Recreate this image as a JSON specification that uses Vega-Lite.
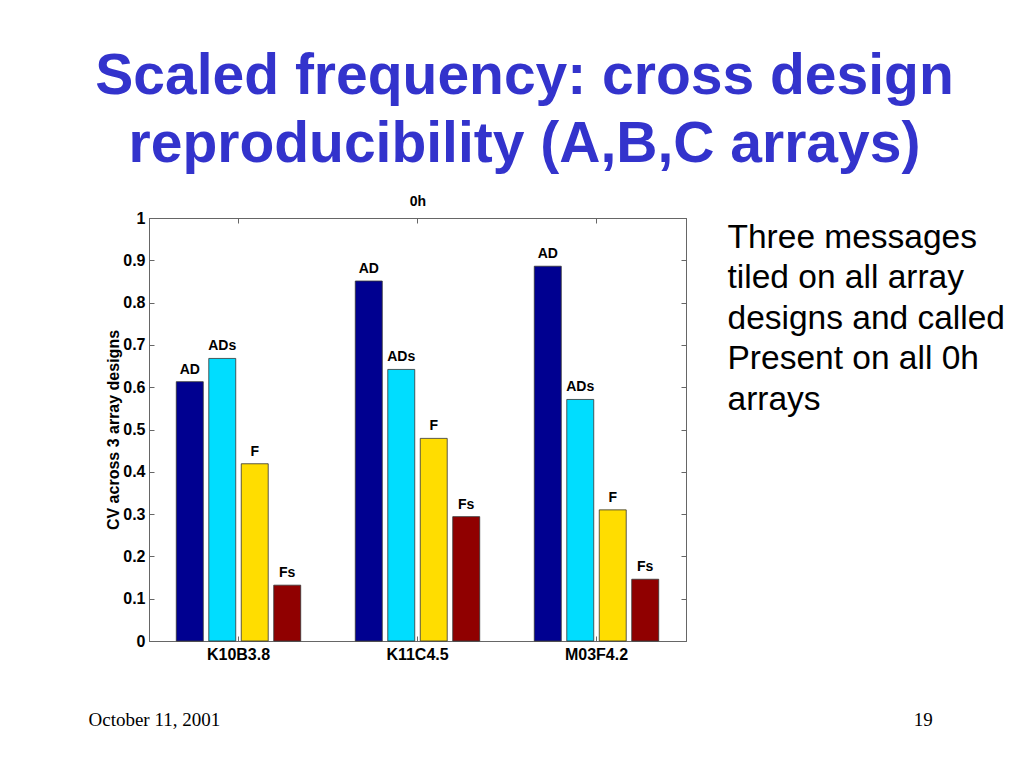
{
  "$schema": "https://vega.github.io/schema/vega-lite/v6.json",
  "width": 537,
  "height": 423,
  "autosize": {"type": "none"},
  "padding": {"left": 149, "top": 218, "right": 338, "bottom": 127},
  "background": "white",
  "config": {
    "view": {"stroke": "#666666", "strokeWidth": 1},
    "font": "Liberation Sans"
  },
  "title": {
    "text": ["Scaled frequency: cross design", "reproducibility (A,B,C arrays)"],
    "font": "Liberation Sans",
    "fontSize": 57,
    "fontWeight": "bold",
    "color": "#3333CC",
    "anchor": "middle",
    "frame": "group",
    "dx": 107,
    "offset": 20,
    "lineHeight": 68.5
  },
  "data": {
    "values": [
      {"gene": "K10B3.8", "series": "AD", "value": 0.613},
      {"gene": "K10B3.8", "series": "ADs", "value": 0.668},
      {"gene": "K10B3.8", "series": "F", "value": 0.419},
      {"gene": "K10B3.8", "series": "Fs", "value": 0.132},
      {"gene": "K11C4.5", "series": "AD", "value": 0.851},
      {"gene": "K11C4.5", "series": "ADs", "value": 0.642},
      {"gene": "K11C4.5", "series": "F", "value": 0.479},
      {"gene": "K11C4.5", "series": "Fs", "value": 0.294},
      {"gene": "M03F4.2", "series": "AD", "value": 0.886},
      {"gene": "M03F4.2", "series": "ADs", "value": 0.571},
      {"gene": "M03F4.2", "series": "F", "value": 0.310},
      {"gene": "M03F4.2", "series": "Fs", "value": 0.146}
    ]
  },
  "layer": [
    {
      "mark": {"type": "bar", "stroke": "#333333", "strokeWidth": 0.8},
      "encoding": {
        "x": {
          "field": "gene",
          "type": "nominal",
          "scale": {"paddingInner": 0, "paddingOuter": 0},
          "axis": {
            "orient": "bottom",
            "labelAngle": 0,
            "labelFont": "Liberation Sans",
            "labelFontSize": 16,
            "labelFontWeight": "bold",
            "labelColor": "black",
            "labelPadding": 10,
            "tickSize": -5,
            "tickColor": "#666666",
            "domainColor": "#666666",
            "title": "October 11, 2001\u2003\u2003\u2003\u2003\u2003\u2003\u2003\u2003\u2003\u2003\u2003\u2003\u2003\u2003\u2003\u2003\u2003\u2003\u2003\u2003\u2003\u2003\u2003\u2003\u2003\u2003\u2003\u2003\u2003\u2003\u2003\u2003\u2003\u2003\u2003\u2003\u00a0\u00a019",
            "titleFont": "Liberation Serif",
            "titleFontSize": 19,
            "titleFontWeight": "normal",
            "titleColor": "black",
            "titleAlign": "left",
            "titleAnchor": "start",
            "titleX": -61,
            "titleY": 84,
            "titleBaseline": "alphabetic"
          }
        },
        "xOffset": {
          "field": "series",
          "type": "nominal",
          "scale": {"paddingInner": 0.17, "paddingOuter": 0.84}
        },
        "y": {
          "field": "value",
          "type": "quantitative",
          "scale": {"domain": [0, 1], "nice": false, "zero": true},
          "axis": {
            "orient": "left",
            "values": [0, 0.1, 0.2, 0.3, 0.4, 0.5, 0.6, 0.7, 0.8, 0.9, 1],
            "format": "~g",
            "grid": false,
            "labelFont": "Liberation Sans",
            "labelFontSize": 16,
            "labelFontWeight": "bold",
            "labelColor": "black",
            "labelPadding": 9,
            "tickSize": -5,
            "tickColor": "#666666",
            "domainColor": "#666666",
            "title": "CV across 3 array designs",
            "titleFont": "Liberation Sans",
            "titleFontSize": 16,
            "titleFontWeight": "bold",
            "titleColor": "black",
            "titleX": -31,
            "titleY": 211.5,
            "titleBaseline": "alphabetic",
            "titleAlign": "center"
          }
        },
        "color": {
          "field": "series",
          "type": "nominal",
          "scale": {"domain": ["AD", "ADs", "F", "Fs"], "range": ["#000090", "#00DDFF", "#FFDD00", "#900000"]},
          "legend": null
        }
      }
    },
    {
      "mark": {"type": "text", "baseline": "bottom", "dy": -5, "font": "Liberation Sans", "fontSize": 14, "fontWeight": "bold", "color": "black"},
      "encoding": {
        "x": {
          "field": "gene",
          "type": "nominal",
          "axis": {
            "orient": "top",
            "labels": false,
            "tickSize": -5,
            "tickColor": "#666666",
            "domainColor": "#666666",
            "title": "0h",
            "titleFont": "Liberation Sans",
            "titleFontSize": 14,
            "titleFontWeight": "bold",
            "titleColor": "black",
            "titleY": -13,
            "titleBaseline": "alphabetic"
          }
        },
        "xOffset": {"field": "series", "type": "nominal"},
        "y": {
          "field": "value",
          "type": "quantitative",
          "axis": {
            "orient": "right",
            "values": [0, 0.1, 0.2, 0.3, 0.4, 0.5, 0.6, 0.7, 0.8, 0.9, 1],
            "labels": false,
            "grid": false,
            "tickSize": -5,
            "tickColor": "#666666",
            "domainColor": "#666666",
            "title": ["Three messages", "tiled on all array", "designs and called", "Present on all 0h", "arrays"],
            "titleFont": "Liberation Sans",
            "titleFontSize": 33.5,
            "titleFontWeight": "normal",
            "titleColor": "black",
            "titleAngle": 0,
            "titleAlign": "left",
            "titleBaseline": "alphabetic",
            "titleX": 41,
            "titleY": 29,
            "titleLineHeight": 40.5
          }
        },
        "text": {"field": "series"}
      }
    }
  ],
  "resolve": {"axis": {"x": "independent", "y": "independent"}}
}
